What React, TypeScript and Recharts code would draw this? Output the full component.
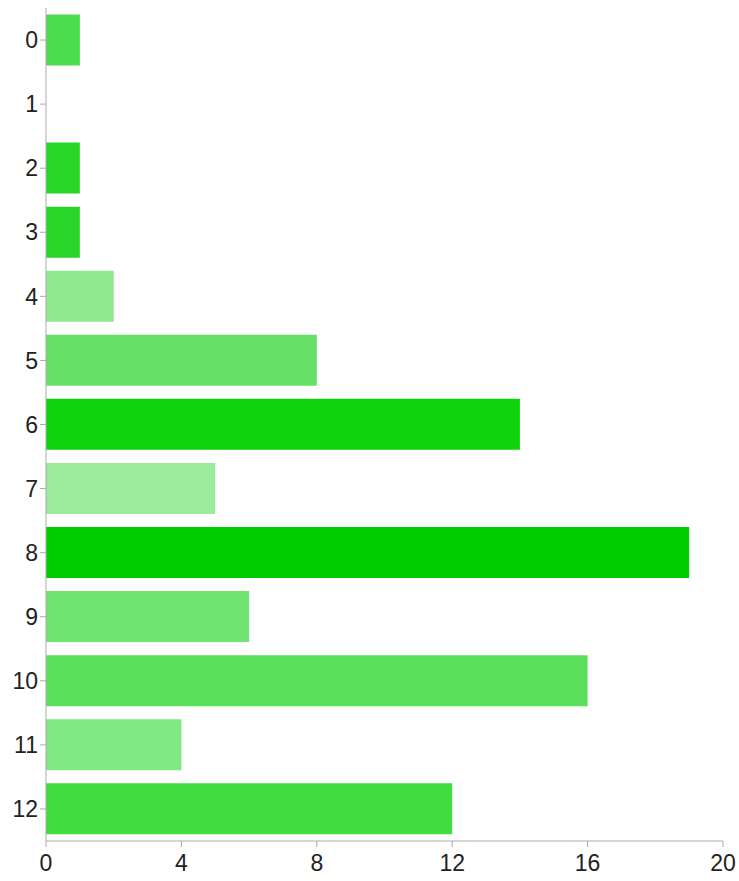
import React from "react";
import { BarChart, Bar, XAxis, YAxis, Cell } from "recharts";

const categories = ["0", "1", "2", "3", "4", "5", "6", "7", "8", "9", "10", "11", "12"];
const counts = [1, 0, 1, 1, 2, 8, 14, 5, 19, 6, 16, 4, 12];
const barColors = [
	"#4cdd4c",
	"#4cdd4c",
	"#27d627",
	"#2ad52a",
	"#90e990",
	"#66e066",
	"#0dd30d",
	"#9aeb9a",
	"#00cc00",
	"#70e470",
	"#5ae05a",
	"#80e880",
	"#40dc40",
];
const xTicks = [0, 4, 8, 12, 16, 20];

const chartData = categories.map((name, i) => ({
	name,
	value: counts[i],
	color: barColors[i],
}));

const tickStyle = { fill: "#222", fontSize: 23, fontFamily: "'Liberation Sans', Arial, sans-serif" };

const App = () => {
	return (
		<div style={{ position: "absolute", left: 0, top: 0 }}>
			<BarChart
				width={739}
				height={881}
				data={chartData}
				layout="vertical"
				margin={{ top: 8, right: 16, bottom: 0, left: 0 }}
				barCategoryGap="10%"
			>
				<XAxis
					type="number"
					domain={[0, 20]}
					ticks={xTicks}
					height={40}
					stroke="#aaa"
					tickSize={6}
					tickMargin={8}
					tick={tickStyle}
				/>
				<YAxis
					type="category"
					dataKey="name"
					width={46}
					stroke="#aaa"
					tickSize={6}
					tickMargin={2}
					tick={tickStyle}
				/>
				<Bar dataKey="value" isAnimationActive={false}>
					{chartData.map((entry, index) => (
						<Cell key={`cell-${index}`} fill={entry.color} />
					))}
				</Bar>
			</BarChart>
		</div>
	);
};

export default App;
